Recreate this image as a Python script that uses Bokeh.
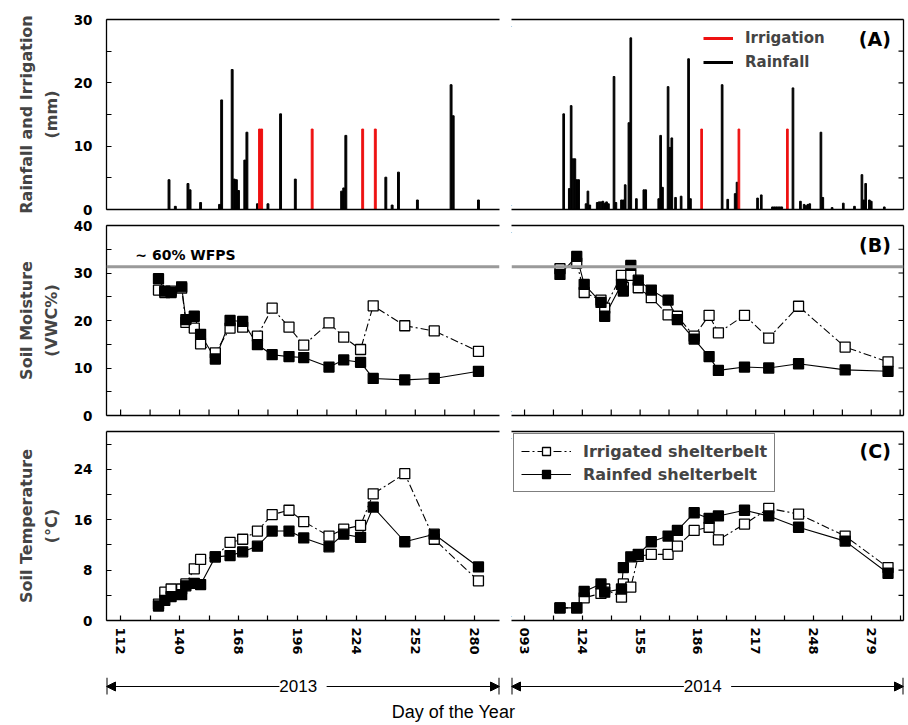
import math
from bokeh.plotting import figure
from bokeh.layouts import column, row
from bokeh.models import (Range1d, LinearAxis, FixedTicker, Span, Label, Legend,
                          LegendItem, Arrow, NormalHead)
from bokeh.embed import file_html
from bokeh.resources import INLINE

BOLD = "DejaVu Sans"
REG = "Liberation Sans"
RED = "#ee1111"

# ---------------- data ----------------
# Panel A: rainfall and irrigation (mm)
rain13_doy = [135, 138, 144, 145, 150, 159, 160, 165, 166, 167, 168, 171, 172, 177, 182,
              188, 195, 217, 218, 219, 238, 241, 244, 253, 269, 270, 282]
rain13_mm = [4.7, 0.5, 4.1, 3.1, 1.1, 0.8, 17.3, 22.1, 4.8, 4.7, 3.0, 7.8, 12.2, 0.9, 0.9,
             15.1, 4.8, 2.9, 3.4, 11.7, 5.1, 0.7, 5.9, 1.5, 19.7, 14.8, 1.5]
irr13_doy = [178, 179, 203, 227, 233]
irr13_mm = [12.7, 12.7, 12.7, 12.7, 12.7]

rain14_doy = [114, 117, 118, 119, 120, 121, 122, 126, 127, 128, 132, 133, 134, 135, 136,
              137, 138, 141, 142, 145, 146, 147, 149, 150, 153, 157, 158, 165, 166, 167,
              170, 171, 172, 174, 177, 181, 182, 199, 202, 206, 207, 218, 220, 226, 227,
              228, 229, 230, 231, 237, 241, 243, 244, 245, 246, 252, 253, 258, 264, 270,
              274, 275, 276, 278, 279, 286]
rain14_mm = [15.1, 3.3, 16.4, 8.0, 8.0, 4.7, 4.7, 0.9, 2.9, 0.7, 1.1, 1.2, 1.2, 1.3, 1.0,
             1.2, 0.9, 21.0, 1.1, 1.5, 1.5, 3.9, 13.7, 27.1, 1.7, 3.1, 3.1, 1.7, 11.7, 3.5,
             19.4, 9.8, 11.3, 1.9, 2.1, 23.8, 1.7, 19.7, 1.6, 2.5, 4.3, 1.8, 2.3, 0.4, 0.4,
             0.4, 0.4, 0.4, 0.4, 19.2, 1.3, 0.8, 0.6, 0.8, 0.9, 12.2, 1.9, 0.3, 1.0, 0.5,
             5.5, 1.5, 4.1, 1.5, 1.3, 0.4]
irr14_doy = [188, 208, 234]
irr14_mm = [12.7, 12.7, 12.7]

# Panel B: soil moisture (VWC %)
sm13_doy = [130, 133, 136, 141, 143, 147, 150, 157, 164, 170, 177, 184, 192, 199, 211,
            218, 226, 232, 247, 261, 282]
sm13_irr = [26.4, 25.9, 26.2, 26.8, 19.6, 18.4, 15.1, 13.2, 18.4, 18.6, 16.7, 22.6, 18.6,
            14.8, 19.5, 16.5, 13.9, 23.1, 18.9, 17.8, 13.5]
sm13_rain = [28.8, 26.2, 25.9, 27.1, 20.2, 20.9, 17.1, 11.9, 20.0, 19.8, 14.9, 12.8, 12.4,
             12.2, 10.2, 11.7, 11.2, 7.8, 7.5, 7.8, 9.3]
sm14_doy = [112, 121, 125, 134, 136, 145, 146, 150, 154, 161, 170, 175, 184, 192, 197,
            211, 224, 240, 265, 288]
sm14_irr = [30.9, 32.1, 25.9, 24.3, 22.6, 29.5, 27.0, 29.5, 26.9, 24.8, 21.2, 20.9, 16.7,
            21.1, 17.4, 21.1, 16.3, 23.0, 14.4, 11.3]
sm14_rain = [29.7, 33.5, 27.6, 23.8, 20.9, 27.6, 26.2, 31.6, 28.5, 26.4, 24.3, 20.2, 16.1,
             12.4, 9.5, 10.2, 10.0, 10.9, 9.6, 9.3]
wfps60 = 31.3

# Panel C: soil temperature (deg C)
st13_doy = [130, 133, 136, 141, 143, 147, 150, 157, 164, 170, 177, 184, 192, 199, 211,
            218, 226, 232, 247, 261, 282]
st13_irr = [2.6, 4.5, 5.0, 5.0, 5.8, 8.2, 9.7, 10.1, 12.4, 12.9, 14.2, 16.8, 17.5, 15.7,
            13.4, 14.5, 15.1, 20.1, 23.3, 12.9, 6.3]
st13_rain = [2.3, 3.2, 3.8, 4.1, 5.5, 5.9, 5.7, 10.1, 10.3, 10.9, 11.8, 14.2, 14.2, 13.1,
             11.7, 13.7, 13.2, 18.0, 12.5, 13.7, 8.5]
st14_doy = [112, 121, 125, 134, 136, 145, 146, 150, 154, 161, 170, 175, 184, 192, 197,
            211, 224, 240, 265, 288]
st14_irr = [2.0, 2.0, 3.6, 4.3, 5.0, 3.7, 5.8, 5.3, 10.2, 10.5, 10.5, 11.8, 14.3, 14.8,
            12.8, 15.3, 17.8, 16.9, 13.4, 8.4]
st14_rain = [2.0, 2.0, 4.6, 5.8, 4.5, 5.0, 8.4, 10.1, 10.5, 12.5, 13.4, 14.3, 17.1, 16.2,
             16.6, 17.5, 16.6, 14.8, 12.6, 7.5]

# axes / ticks
x13_ticks = [112, 140, 168, 196, 224, 252, 280]
x13_minor = [126, 154, 182, 210, 238, 266]
x14_ticks = [93, 124, 155, 186, 217, 248, 279]
x14_minor = [108.5, 139.5, 170.5, 201.5, 232.5, 263.5, 294.5]
x14_labels = {93: "093"}
yA_ticks, yA_minor = [0, 10, 20, 30], [5, 15, 25]
yB_ticks, yB_minor = [0, 10, 20, 30, 40], [5, 15, 25, 35]
yC_ticks, yC_minor = [0, 8, 16, 24], [4, 12, 20, 28]

X13 = (105.3, 292.0)
X14 = (86.0, 296.3)

# layout (pixels)
LB, LR = 106, 6          # left figures: border left / right
RL, RR = 6, 2            # right figures: border left / right
FW_L, FW_R = 393, 392
LW = LB + FW_L + LR
RW = RL + FW_R + RR
FH = 190
TICKFONT = "13.5px"


def base(xr, yr, w, h, left, right, top, bottom):
    p = figure(width=w, height=h, x_range=Range1d(*xr), y_range=Range1d(*yr),
               output_backend="svg", toolbar_location=None,
               x_axis_location=None, y_axis_location=None,
               min_border_left=left, min_border_right=right,
               min_border_top=top, min_border_bottom=bottom)
    p.grid.visible = False
    p.outline_line_color = None
    p.background_fill_color = "white"
    p.border_fill_color = "white"
    return p


def add_axis(p, place, ticks, minor, size=TICKFONT, orient=None, title=None,
             overrides=None, standoff=14):
    ax = LinearAxis(ticker=FixedTicker(ticks=ticks, minor_ticks=minor))
    ax.axis_line_color = "black"
    ax.axis_line_width = 1.3
    ax.major_tick_in = 5
    ax.major_tick_out = 0
    ax.minor_tick_in = 5
    ax.minor_tick_out = 0
    ax.major_tick_line_width = 1.2
    ax.minor_tick_line_width = 1.2
    ax.major_label_text_font = BOLD
    ax.major_label_text_font_style = "bold"
    ax.major_label_text_font_size = size
    ax.major_label_standoff = standoff
    ax.major_label_text_color = "black"
    if orient is not None:
        ax.major_label_orientation = orient
    if overrides:
        ax.major_label_overrides = overrides
    if title is not None:
        ax.axis_label = title
        ax.axis_label_text_font = BOLD
        ax.axis_label_text_font_style = "bold"
        ax.axis_label_text_font_size = "16px"
        ax.axis_label_standoff = 10
        ax.axis_label_text_line_height = 1.3
    p.add_layout(ax, place)
    return ax


def plain_line(p, place):
    # frame edge drawn as an axis line without ticks or labels
    add_axis(p, place, [], [])


def inner_xticks(p, xs, y0):
    p.scatter(x=xs, y=[y0 for _ in xs], marker="dash", size=12, angle=math.pi / 2,
              line_color="black", line_width=1.2)


def inner_yticks(p, ys, x0):
    p.scatter(x=[x0 for _ in ys], y=ys, marker="dash", size=10,
              line_color="black", line_width=1.2)


def frame_left(p, yt, ym, title, ymax, mode):
    add_axis(p, "left", yt, ym, title=title)
    plain_line(p, "above")
    if mode == "labels":
        add_axis(p, "below", x13_ticks, x13_minor, size="13px", orient="vertical",
                 standoff=7)
    else:
        plain_line(p, "below")
        if mode == "ticks":
            inner_xticks(p, x13_ticks + x13_minor, 0)
    for yy in (0, ymax):
        p.add_layout(Label(x=X13[1], y=yy, text="]", text_align="left",
                           text_baseline="middle", text_font=REG,
                           text_font_size="12px", text_color="black"))


def frame_right(p, yt, ym, ymax, mode):
    plain_line(p, "right")
    inner_yticks(p, yt + ym, X14[1])
    plain_line(p, "above")
    if mode == "labels":
        add_axis(p, "below", x14_ticks, x14_minor, size="13px", orient="vertical",
                 standoff=7, overrides=x14_labels)
    else:
        plain_line(p, "below")
        if mode == "ticks":
            inner_xticks(p, x14_ticks + x14_minor, 0)
    for yy in (0, ymax):
        p.add_layout(Label(x=X14[0], y=yy, text="[", text_align="right",
                           text_baseline="middle", text_font=REG,
                           text_font_size="12px", text_color="black"))


def panel_letter(p, x, y, txt):
    p.add_layout(Label(x=x, y=y, text=txt, text_align="right", text_baseline="top",
                       text_font=BOLD, text_font_style="bold", text_font_size="19px",
                       text_color="black"))


# ---------------- Panel A ----------------
A_T, A_B = 19, 8
a1 = base(X13, (0, 30), LW, A_T + FH + A_B, LB, LR, A_T, A_B)
a2 = base(X14, (0, 30), RW, A_T + FH + A_B, RL, RR, A_T, A_B)
frame_left(a1, yA_ticks, yA_minor, "Rainfall and Irrigation\n(mm)", 30, "none")
frame_right(a2, yA_ticks, yA_minor, 30, "none")

a1.vbar(x=rain13_doy, top=rain13_mm, width=0.9, color="black")
a1.vbar(x=irr13_doy, top=irr13_mm, width=0.9, color=RED)
a2.vbar(x=rain14_doy, top=rain14_mm, width=0.9, color="black")
a2.vbar(x=irr14_doy, top=irr14_mm, width=0.9, color=RED)

nan = float("nan")
l_irr = a2.line(x=[nan], y=[nan], line_color=RED, line_width=3)
l_rain = a2.line(x=[nan], y=[nan], line_color="black", line_width=3)
legA = Legend(items=[LegendItem(label="Irrigation", renderers=[l_irr]),
                     LegendItem(label="Rainfall", renderers=[l_rain])],
              location=(192, 137), padding=0, margin=0, spacing=4,
              glyph_width=30, glyph_height=20, label_height=20, label_standoff=12,
              border_line_color=None, background_fill_alpha=0)
legA.label_text_font = BOLD
legA.label_text_font_style = "bold"
legA.label_text_font_size = "15px"
a2.add_layout(legA)
panel_letter(a2, 289.5, 28.6, "(A)")

# ---------------- Panel B ----------------
B_T, B_B = 8, 8
b1 = base(X13, (0, 40), LW, B_T + FH + B_B, LB, LR, B_T, B_B)
b2 = base(X14, (0, 40), RW, B_T + FH + B_B, RL, RR, B_T, B_B)
for p in (b1, b2):
    p.add_layout(Span(location=wfps60, dimension="width", line_color="#9a9a9a",
                      line_width=3))
frame_left(b1, yB_ticks, yB_minor, "Soil Moisture\n(VWC%)", 40, "ticks")
frame_right(b2, yB_ticks, yB_minor, 40, "ticks")
b1.add_layout(Label(x=119.0, y=wfps60 + 0.9, text="~ 60% WFPS", text_align="left",
                    text_baseline="bottom", text_font=BOLD, text_font_style="bold",
                    text_font_size="14px", text_color="black"))
panel_letter(b2, 289.5, 38.2, "(B)")

# ---------------- Panel C ----------------
C_T, C_B = 8, 36
c1 = base(X13, (0, 30), LW, C_T + FH + C_B, LB, LR, C_T, C_B)
c2 = base(X14, (0, 30), RW, C_T + FH + C_B, RL, RR, C_T, C_B)
frame_left(c1, yC_ticks, yC_minor, "Soil Temperature\n(\u00b0C)", 30, "labels")
frame_right(c2, yC_ticks, yC_minor, 30, "labels")
panel_letter(c2, 289.5, 28.7, "(C)")

DASH = "8 3 2 3"
MS = 10


def series(p, doy, irr, rain):
    li = p.line(x=doy, y=irr, line_color="black", line_width=1.1, line_dash=DASH)
    lr = p.line(x=doy, y=rain, line_color="black", line_width=1.1)
    si = p.scatter(x=doy, y=irr, marker="square", size=MS, fill_color="white",
                   line_color="black", line_width=1.3)
    sr = p.scatter(x=doy, y=rain, marker="square", size=MS, fill_color="black",
                   line_color="black", line_width=1.3)
    return li, lr, si, sr


series(b1, sm13_doy, sm13_irr, sm13_rain)
series(b2, sm14_doy, sm14_irr, sm14_rain)
series(c1, st13_doy, st13_irr, st13_rain)
li, lr, si, sr = series(c2, st14_doy, st14_irr, st14_rain)

legC = Legend(items=[LegendItem(label="Irrigated shelterbelt", renderers=[li, si]),
                     LegendItem(label="Rainfed shelterbelt", renderers=[lr, sr])],
              location="top_left", margin=2, padding=7, spacing=3,
              glyph_width=50, glyph_height=20, label_height=20, label_standoff=12,
              border_line_color="black", border_line_width=1.2,
              background_fill_color="white", background_fill_alpha=1)
legC.label_text_font = BOLD
legC.label_text_font_style = "bold"
legC.label_text_font_size = "16px"
c2.add_layout(legC)


# ---------------- year arrows ----------------
SH = 40
AY = 0.275


def strip(xr, w, left, right, year):
    s = base(xr, (0, 1), w, SH, left, right, 0, 0)
    s.add_layout(Arrow(x_start=xr[0], y_start=AY, x_end=xr[1], y_end=AY,
                       start=NormalHead(size=9, fill_color="black", line_color="black"),
                       end=NormalHead(size=9, fill_color="black", line_color="black"),
                       line_color="black", line_width=1.2))
    s.segment(x0=[xr[0], xr[1]], y0=[AY - 0.2, AY - 0.2], x1=[xr[0], xr[1]],
              y1=[AY + 0.22, AY + 0.22], line_color="black", line_width=2)
    s.add_layout(Label(x=(xr[0] + xr[1]) / 2, y=AY, text=" " + year + " ",
                       text_align="center", text_baseline="middle", text_font=REG,
                       text_font_size="17px", text_color="black",
                       background_fill_color="white"))
    return s


s1 = strip(X13, LW, LB, LR, "2013")
s2 = strip(X14, RW, RL, RR, "2014")

TW = LW + RW
t = base((0, TW), (0, 1), TW, 25, 0, 0, 0, 0)
t.add_layout(Label(x=453, y=0.42, text="Day of the Year", text_align="center",
                   text_baseline="middle", text_font=REG, text_font_size="18px",
                   text_color="black"))

layout = column(row(a1, a2), row(b1, b2), row(c1, c2), row(s1, s2), t)

open("out.html", "w").write(file_html(layout, INLINE))
